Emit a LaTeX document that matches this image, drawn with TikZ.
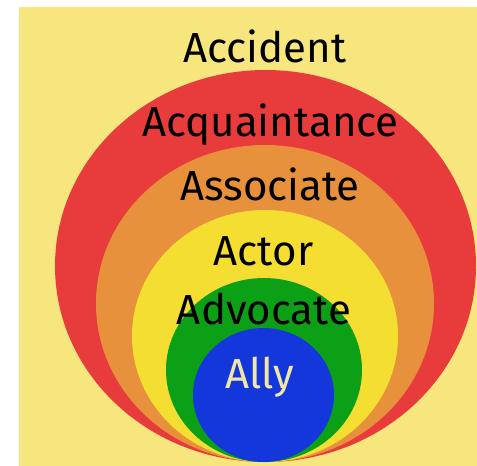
\documentclass[tikz,border=0pt]{standalone}
\usepackage{fontspec}
\setmainfont{Fira Sans}

\definecolor{paper}{RGB}{246,230,125}
\definecolor{ringred}{RGB}{232,60,60}
\definecolor{ringorange}{RGB}{232,145,60}
\definecolor{ringyellow}{RGB}{245,222,50}
\definecolor{ringgreen}{RGB}{12,160,22}
\definecolor{ringblue}{RGB}{20,55,220}
\definecolor{allytext}{RGB}{240,230,165}

\tikzset{
    ringlabel/.style={anchor=base, inner sep=0pt, font=\fontsize{42}{44}\selectfont, text=black}
}

\begin{document}
\begin{tikzpicture}[x=1pt, y=-1pt]
    \useasboundingbox (0,0) rectangle (477,466);
    \fill[white] (0,0) rectangle (477,466);
    \fill[paper] (19,7) rectangle (477,466);
    % rings, all touching at the bottom
    \fill[ringred] (265.5,266) ellipse (210.5 and 196);
    \fill[ringorange] (265,303.5) ellipse (169 and 158.5);
    \fill[ringyellow] (265,336) ellipse (133 and 126);
    \fill[ringgreen] (264,370) ellipse (98 and 92);
    \fill[ringblue] (263.5,395) ellipse (70.5 and 67);
    % labels
    \node[ringlabel] (accident) at (265,62) {Accident};
    \node[ringlabel] (acquaintance) at (270.5,136) {Acquaintance};
    \node[ringlabel] (associate) at (270,200) {Associate};
    \node[ringlabel] (actor) at (263.5,265) {Actor};
    \node[ringlabel] (advocate) at (264,324) {Advocate};
    \node[ringlabel, text=allytext] (ally) at (259.5,388) {Ally};
\end{tikzpicture}
\end{document}
